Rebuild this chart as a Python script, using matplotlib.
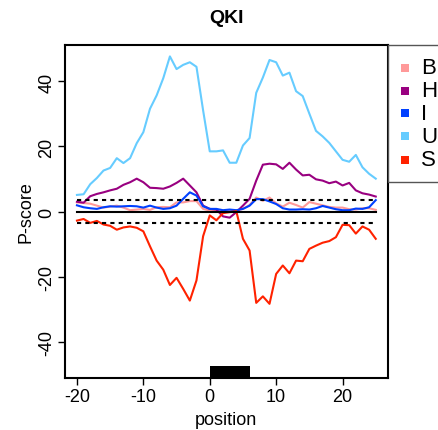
import matplotlib
matplotlib.use("Agg")
import matplotlib.pyplot as plt
from matplotlib.patches import Rectangle
import numpy as np

plt.rcParams['font.family'] = ['Liberation Sans', 'DejaVu Sans']

positions = list(range(-20, 26))

B = [2.8, 2.6, 2.4, 1.8, 1.2, 1.5, 1.8, 1.2, 0.4, 0.6, 0.8, 0.5, 1.3, 1.4, 1.3, 2.8,
     2.8, 3.2, 3.2, 0.8, 0.3, 0.5, 0.2, 0.4, 0.2, 0.8, 2.0, 4.3, 3.3, 4.3, 2.5, 1.5,
     2.7, 2.0, 1.2, 2.9, 2.4, 1.9, 1.4, 1.2, 1.2, 0.7, 0.6, 1.0, 1.0, 0.5]
H = [3.0, 2.7, 4.7, 5.4, 5.9, 6.5, 7.0, 8.2, 9.0, 10.1, 9.0, 7.3, 7.2, 7.0, 7.7, 8.8,
     10.1, 8.0, 5.9, 1.8, 0.8, 0.6, -1.5, -1.9, -0.2, 1.8, 3.9, 9.5, 14.4, 14.7, 14.5, 13.1,
     15.0, 12.9, 11.1, 11.3, 9.9, 9.5, 8.7, 9.2, 8.0, 8.8, 6.5, 5.6, 5.2, 4.6]
I = [1.9, 1.3, 1.0, 0.8, 1.3, 1.6, 1.5, 1.6, 1.7, 1.6, 1.2, 1.8, 1.2, 0.8, 1.0, 1.8,
     3.9, 5.9, 4.9, 1.6, 0.8, 0.8, 0.4, 0.6, 0.4, 0.8, 1.8, 3.8, 3.8, 3.1, 2.3, 1.0,
     0.6, 0.6, 0.7, 0.6, 1.0, 1.7, 1.2, 0.7, 0.4, 0.4, 0.9, 0.8, 1.3, 3.5]
U = [5.1, 5.3, 8.4, 10.3, 12.6, 13.4, 16.4, 14.9, 16.4, 21.0, 24.4, 31.6, 35.7, 41.0, 47.7, 43.8,
     45.1, 45.9, 44.5, 31.1, 18.5, 18.5, 18.8, 15.0, 15.0, 20.3, 22.6, 36.5, 41.2, 46.6, 45.9, 41.8,
     42.7, 37.0, 35.5, 30.1, 24.8, 23.1, 21.1, 18.5, 15.9, 15.3, 17.4, 13.6, 11.6, 10.1]
S = [-2.8, -2.3, -3.5, -2.9, -4.0, -4.4, -5.6, -4.9, -4.6, -5.0, -6.1, -10.7, -15.1, -17.9, -22.6, -20.4,
     -23.8, -27.4, -21.2, -7.6, -1.2, -2.7, -0.5, -0.2, 0.1, -8.4, -12.0, -28.1, -26.1, -28.4, -19.2, -16.6,
     -19.0, -15.1, -15.3, -11.5, -10.5, -9.6, -9.1, -7.9, -4.1, -4.2, -6.8, -4.6, -5.6, -8.4]

series_names = ['B', 'H', 'I', 'U', 'S']
series_values = [B, H, I, U, S]
series_colors = ['#FF9999', '#990080', '#0040FF', '#66CCFF', '#FF2200']

threshold = 3.6
motif_start, motif_end = 0, 6
x_ticks = [-20, -10, 0, 10, 20]
y_ticks = [-40, -20, 0, 20, 40]

W, Hpx = 439, 431
fig = plt.figure(figsize=(W / 100, Hpx / 100), dpi=100)
ax = fig.add_axes([65 / W, 1 - 379.3 / Hpx, (387.7 - 65) / W, (379.3 - 45.7) / Hpx])

for name, vals, col in zip(series_names, series_values, series_colors):
    ax.plot(positions, vals, color=col, lw=1.5, solid_joinstyle='round')

xmin, xmax = positions[0], positions[-1]
ax.plot([xmin, xmax], [0, 0], color='black', lw=1.5)
for t in (threshold, -threshold):
    ax.plot([xmin, xmax], [t, t], color='black', lw=1.5, linestyle=(0, (2, 2)))

ax.set_xlim(-21.8, 26.8)
ax.set_ylim(-51.3, 51.3)

ax.add_patch(Rectangle((motif_start, -60), motif_end - motif_start, 60 - 47.4,
                       facecolor='black', edgecolor='none', zorder=3))

ax.set_xticks(x_ticks)
ax.set_yticks(y_ticks)
ax.set_xticklabels([str(v) for v in x_ticks])
ax.set_yticklabels([str(v) for v in y_ticks], rotation=90, va='center')
ax.tick_params(direction='out', length=5, width=1, labelsize=13, colors='black')
ax.tick_params(axis='x', pad=2)
ax.tick_params(axis='y', pad=2)
for sp in ax.spines.values():
    sp.set_linewidth(1.5)

ax.set_xlabel('position', fontsize=13, labelpad=4)
ax.set_ylabel('P-score', fontsize=13, labelpad=3)
ax.set_title('QKI', fontsize=14, fontweight='bold', pad=16)

# legend box on the right, drawn in figure pixel coordinates
def fx(px):
    return px / W

def fy(py):
    return 1 - py / Hpx

fig.patches.append(Rectangle((fx(387.7), fy(183)), fx(460) - fx(387.7), fy(45.7) - fy(183),
                             transform=fig.transFigure, facecolor='white',
                             edgecolor='#555555', lw=1.0, figure=fig))
ys = [69, 91.7, 114.3, 137.3, 160.7]
for name, col, py in zip(series_names, series_colors, ys):
    fig.patches.append(Rectangle((fx(401), fy(py + 4)), fx(8), 8 / Hpx,
                                 transform=fig.transFigure, facecolor=col,
                                 edgecolor='none', figure=fig))
    fig.text(fx(421), fy(py), name, fontsize=16, va='center', ha='left')

fig.savefig('out.png', dpi=100)
